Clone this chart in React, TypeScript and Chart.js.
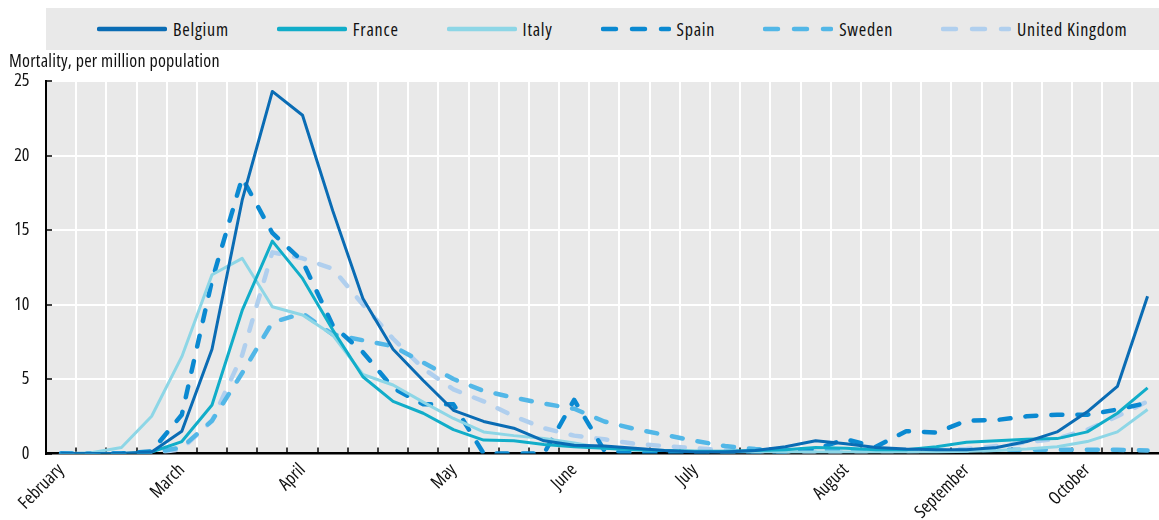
import React, { useEffect, useRef } from "react";
import { Chart, registerables } from "chart.js";

Chart.register(...registerables);

// Weekly categories (month name shown at the first week of each month)
const weekLabels: string[] = [
  "February", "", "", "", "March", "", "", "", "April", "", "", "", "", "May", "", "", "",
  "June", "", "", "", "July", "", "", "", "", "August", "", "", "", "September", "", "", "",
  "October", "", "",
];

const belgium = [0, 0, 0, 0.1, 1.5, 7.0, 17.0, 24.3, 22.7, 16.3, 10.4, 7.0, 4.9, 2.9, 2.15, 1.7, 0.85, 0.55, 0.5, 0.35, 0.2, 0.1, 0.1, 0.2, 0.45, 0.85, 0.65, 0.4, 0.3, 0.25, 0.25, 0.4, 0.8, 1.45, 2.8, 4.5, 10.55];
const france = [0, 0, 0, 0.1, 0.8, 3.25, 9.6, 14.25, 11.75, 8.3, 5.15, 3.5, 2.7, 1.6, 0.9, 0.85, 0.6, 0.45, 0.35, 0.25, 0.2, 0.15, 0.15, 0.2, 0.25, 0.4, 0.35, 0.25, 0.25, 0.45, 0.75, 0.85, 0.95, 1.0, 1.45, 2.7, 4.4];
const italy = [0, 0.05, 0.4, 2.5, 6.5, 12.0, 13.1, 9.85, 9.3, 7.95, 5.3, 4.6, 3.45, 2.35, 1.45, 1.2, 1.0, 0.7, 0.35, 0.25, 0.2, 0.15, 0.1, 0.1, 0.1, 0.1, 0.1, 0.1, 0.1, 0.1, 0.15, 0.2, 0.3, 0.45, 0.8, 1.45, 2.95];
const spain = [0, 0, 0, 0.15, 2.6, 11.6, 18.5, 14.8, 12.9, 8.6, 6.8, 4.4, 3.3, 3.3, 0, 0, 0, 3.6, 0.2, 0.05, 0.05, 0.05, 0.05, 0.05, 0.1, 0.3, 0.95, 0.45, 1.5, 1.4, 2.2, 2.25, 2.5, 2.6, 2.6, 2.95, 3.4];
const sweden = [0, 0, 0, 0.05, 0.4, 2.2, 5.4, 8.8, 9.4, 8.0, 7.6, 7.2, 6.1, 5.0, 4.2, 3.75, 3.35, 3.0, 2.15, 1.65, 1.25, 0.85, 0.5, 0.3, 0.25, 0.25, 0.25, 0.2, 0.2, 0.2, 0.2, 0.25, 0.25, 0.25, 0.25, 0.25, 0.2];
const unitedKingdom = [0, 0, 0, 0, 0.3, 2.2, 6.6, 13.5, 13.1, 12.4, 10.0, 7.7, 5.7, 4.3, 3.5, 2.5, 1.7, 1.2, 0.95, 0.65, 0.5, 0.35, 0.22, 0.15, 0.12, 0.12, 0.12, 0.15, 0.15, 0.2, 0.3, 0.5, 0.75, 1.0, 1.6, 2.5, 3.5];

const yTicks = [0, 5, 10, 15, 20, 25];

const FONT_FAMILY = '"Open Sans", "Liberation Sans", sans-serif';
const TEXT_COLOR = "#111111";

const series = [
  { name: "Belgium", data: belgium, color: "#0a6cb4", dashed: false },
  { name: "France", data: france, color: "#11adc9", dashed: false },
  { name: "Italy", data: italy, color: "#8dd6e6", dashed: false },
  { name: "Spain", data: spain, color: "#0a89d1", dashed: true },
  { name: "Sweden", data: sweden, color: "#52b7e7", dashed: true },
  { name: "United Kingdom", data: unitedKingdom, color: "#b0cfee", dashed: true },
];

const plotBackground = {
  id: "plotBackground",
  beforeDraw(chart: any) {
    const { ctx, chartArea } = chart;
    if (!chartArea) return;
    ctx.save();
    ctx.fillStyle = "#e9e9e9";
    ctx.fillRect(chartArea.left, chartArea.top, chartArea.right - chartArea.left, chartArea.bottom - chartArea.top);
    ctx.restore();
  },
};

export default function App() {
  const ref = useRef<HTMLCanvasElement>(null);

  useEffect(() => {
    const canvas = ref.current;
    if (!canvas) return;
    const tickFont = { family: FONT_FAMILY, size: 18, weight: "normal condensed" as any };
    const chart = new Chart(canvas, {
      type: "line",
      data: {
        labels: weekLabels,
        datasets: series.map((s) => ({
          label: s.name,
          data: s.data,
          borderColor: s.color,
          backgroundColor: s.color,
          borderWidth: s.dashed ? 4.5 : 3,
          borderDash: s.dashed ? [11, 15] : [],
          borderCapStyle: s.dashed ? "round" : "butt",
          borderJoinStyle: "round",
          pointRadius: 0,
          pointHoverRadius: 0,
          tension: 0,
          fill: false,
        })) as any,
      },
      options: {
        animation: false,
        responsive: false,
        devicePixelRatio: 1,
        events: [],
        layout: { padding: { top: 81, right: 11, bottom: 0, left: 0 } },
        plugins: {
          legend: { display: false },
          title: { display: false },
          tooltip: { enabled: false },
        },
        scales: {
          x: {
            type: "category",
            offset: true,
            grid: {
              offset: true,
              color: "#ffffff",
              lineWidth: 2,
              drawTicks: true,
              tickLength: -6,
              tickColor: "#000000",
              tickWidth: 1.5,
            },
            border: { display: true, color: "#000000", width: 2.5 },
            ticks: {
              autoSkip: false,
              maxRotation: 45,
              minRotation: 45,
              color: TEXT_COLOR,
              font: tickFont,
              padding: 12,
            },
            afterFit: (scale: any) => {
              scale.height = 66.5;
            },
          },
          y: {
            min: 0,
            max: 25,
            afterBuildTicks: (scale: any) => {
              scale.ticks = yTicks.map((v) => ({ value: v }));
            },
            grid: {
              color: "#ffffff",
              lineWidth: 2,
              drawTicks: true,
              tickLength: -6,
              tickColor: "#000000",
              tickWidth: 1.5,
            },
            border: { display: true, color: "#000000", width: 2 },
            ticks: {
              color: TEXT_COLOR,
              font: tickFont,
              padding: 22.5,
            },
            afterFit: (scale: any) => {
              scale.width = 46;
            },
          },
        },
      },
      plugins: [plotBackground],
    });
    return () => chart.destroy();
  }, []);

  const textStyle: React.CSSProperties = {
    fontFamily: FONT_FAMILY,
    fontStretch: "condensed",
    fontSize: 18,
    lineHeight: "18px",
    color: TEXT_COLOR,
    whiteSpace: "nowrap",
  };

  return (
    <div
      style={{
        position: "fixed",
        left: 0,
        top: 0,
        width: 1159,
        height: 520,
        overflow: "hidden",
        background: "#ffffff",
      }}
    >
      <canvas
        ref={ref}
        width={1175}
        height={520}
        style={{ position: "absolute", left: 0, top: 0, display: "block" }}
      />
      <div
        style={{
          position: "absolute",
          left: 46,
          top: 8,
          width: 1200,
          height: 42,
          background: "#e9e9e9",
          display: "flex",
          alignItems: "center",
          paddingLeft: 51,
          boxSizing: "border-box",
          gap: 48,
        }}
      >
        {series.map((s) => (
          <div key={s.name} style={{ display: "flex", alignItems: "center", gap: 6 }}>
            <svg width={70} height={10} style={{ display: "block" }}>
              <line
                x1={2}
                y1={5}
                x2={68}
                y2={5}
                stroke={s.color}
                strokeWidth={4.5}
                strokeLinecap="round"
                strokeDasharray={s.dashed ? "13 16" : undefined}
              />
            </svg>
            <span style={{ ...textStyle, letterSpacing: "0.75px" }}>{s.name}</span>
          </div>
        ))}
      </div>
      <div style={{ ...textStyle, letterSpacing: "0.25px", position: "absolute", left: 9, top: 51 }}>
        Mortality, per million population
      </div>
    </div>
  );
}
